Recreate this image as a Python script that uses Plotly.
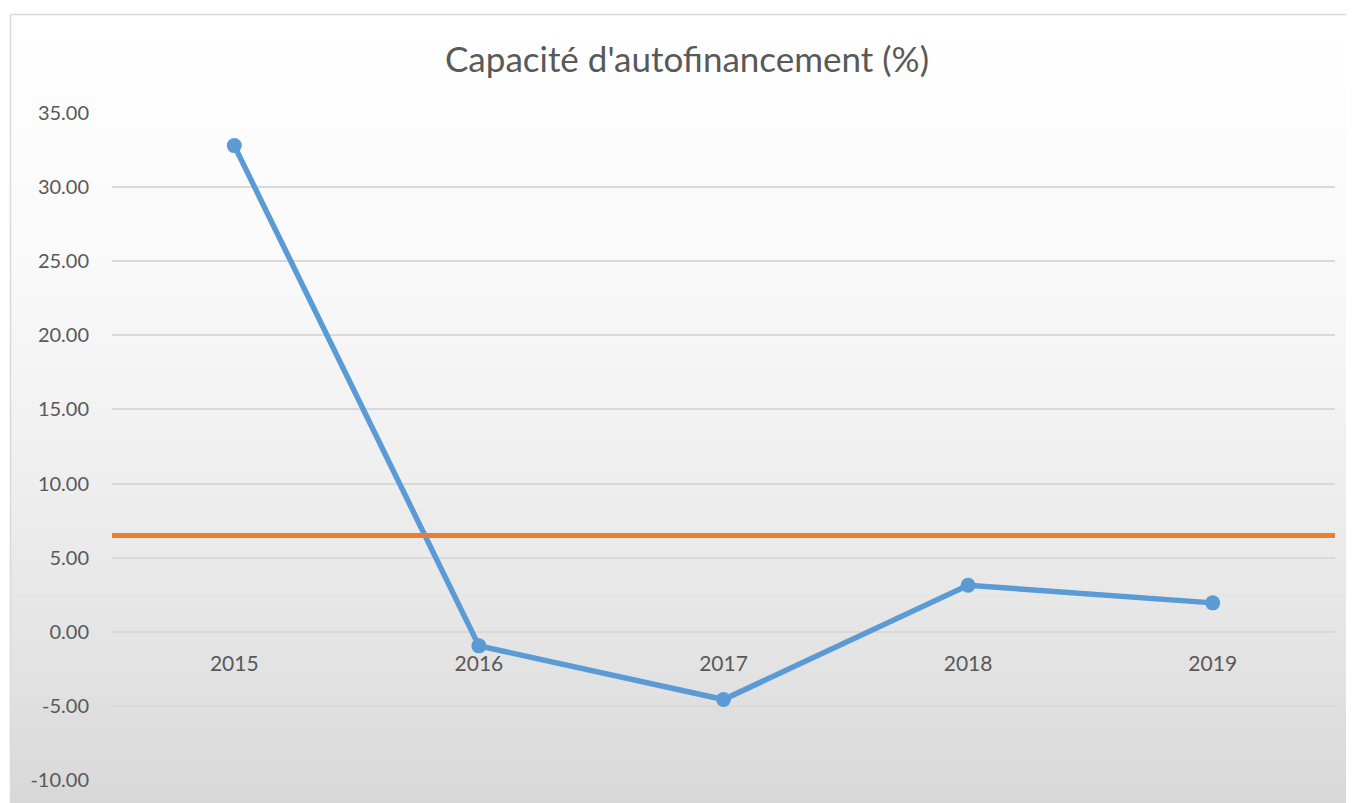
import plotly.graph_objects as go

# ---- data ----
years = ["2015", "2016", "2017", "2018", "2019"]
caf_values = [32.80, -0.95, -4.57, 3.14, 1.95]
threshold = 6.5
y_tick_values = [-10, -5, 0, 5, 10, 15, 20, 25, 30, 35]
y_tick_labels = ["-10.00", "-5.00", "0.00", "5.00", "10.00", "15.00", "20.00", "25.00", "30.00", "35.00"]
title_text = "Capacité d'autofinancement (%)"

# page has an 8px body margin: figure drawn at (8, 8)
OFF = 8
W, H = 1354 - OFF, 803 - OFF
ML, MR, MT, MB = 112 - OFF, 19, 113 - OFF, 23
PW = W - ML - MR
PH = H - MT - MB

def px_x(p):  # page pixel -> paper
    return (p - OFF - ML) / PW

def px_y(p):
    return (H - MB - (p - OFF)) / PH

# gradient background stops (page pixel y, gray level)
stops = [(14, 255), (250, 250), (450, 240), (650, 228), (803, 216)]

def gray_at(p):
    for (y0, g0), (y1, g1) in zip(stops[:-1], stops[1:]):
        if y0 <= p <= y1:
            t = (p - y0) / (y1 - y0)
            return g0 + t * (g1 - g0)
    return stops[-1][1]

shapes = []
n_bands = 120
top, bot = 14, 803
step = (bot - top) / n_bands
for i in range(n_bands):
    y0p = top + i * step
    y1p = y0p + step + 0.6
    g = int(round(gray_at(y0p + step / 2)))
    shapes.append(dict(type="rect", xref="paper", yref="paper",
                       x0=px_x(10), x1=px_x(1360), y0=px_y(y1p), y1=px_y(y0p),
                       fillcolor=f"rgb({g},{g},{g})", line=dict(width=0), layer="below"))
# frame border (top and left edges)
shapes.append(dict(type="line", xref="paper", yref="paper",
                   x0=px_x(10.5), x1=px_x(1360), y0=px_y(14.5), y1=px_y(14.5),
                   line=dict(color="#d9d9d9", width=1.5), layer="below"))
shapes.append(dict(type="line", xref="paper", yref="paper",
                   x0=px_x(10.5), x1=px_x(10.5), y0=px_y(14.5), y1=px_y(810),
                   line=dict(color="#d9d9d9", width=1.5), layer="below"))

fig = go.Figure()
fig.add_trace(go.Scatter(
    x=years, y=caf_values, mode="lines+markers",
    line=dict(color="#5b9bd5", width=5.5),
    marker=dict(color="#5b9bd5", size=15),
    showlegend=False, hoverinfo="x+y"))

fig.add_hline(y=threshold, line=dict(color="#ed7d31", width=5), layer="above")

fig.update_layout(
    width=W, height=H,
    margin=dict(l=ML, r=MR, t=MT, b=MB),
    paper_bgcolor="white",
    plot_bgcolor="rgba(0,0,0,0)",
    shapes=fig.layout.shapes + tuple(shapes),
    font=dict(family="Lato, Carlito, sans-serif", color="#595959", size=20),
    title=dict(text=title_text, x=(687 - OFF) / W, xanchor="center",
               y=1 - (60 - OFF) / H, yanchor="middle", yref="container",
               font=dict(size=35, color="#595959", family="Lato, sans-serif")),
    xaxis=dict(type="category", range=[-0.5, 4.5], anchor="free",
               position=10 / 45, showgrid=False, showline=False, zeroline=False,
               ticks="", ticklabelstandoff=17, tickfont=dict(size=21, color="#595959")),
    yaxis=dict(range=[-10, 35], tickvals=y_tick_values, ticktext=y_tick_labels,
               showgrid=True, gridcolor="#d9d9d9", gridwidth=2, zeroline=False,
               showline=False, ticks="", ticklabelstandoff=22,
               tickfont=dict(size=20, color="#595959")),
)

fig.write_html("out.html",
               post_script="document.documentElement.style.overflow='hidden';document.body.style.overflow='hidden';")
